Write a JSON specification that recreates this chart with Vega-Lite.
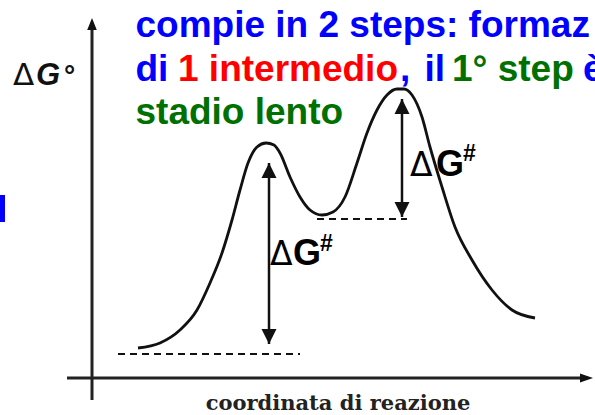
{
  "$schema": "https://vega.github.io/schema/vega-lite/v6.json",
  "width": 595,
  "height": 415,
  "autosize": {"type": "none"},
  "padding": 0,
  "background": "white",
  "config": {"view": {"stroke": null}},
  "datasets": {
    "curva": [
      {"x": 9.2, "y": 6.0}, {"x": 13.6, "y": 7.0}, {"x": 17.6, "y": 9.6}, {"x": 21.0, "y": 13.6},
      {"x": 23.6, "y": 19.0}, {"x": 26.0, "y": 25.0}, {"x": 28.0, "y": 31.6}, {"x": 29.6, "y": 37.6},
      {"x": 31.2, "y": 43.0}, {"x": 33.0, "y": 46.2}, {"x": 34.8, "y": 47.0}, {"x": 36.4, "y": 46.6},
      {"x": 37.6, "y": 45.0}, {"x": 39.6, "y": 40.2}, {"x": 41.6, "y": 36.2}, {"x": 43.6, "y": 33.6},
      {"x": 46.0, "y": 32.6}, {"x": 48.2, "y": 33.2}, {"x": 50.6, "y": 36.2}, {"x": 53.0, "y": 43.0},
      {"x": 55.0, "y": 49.0}, {"x": 57.0, "y": 53.6}, {"x": 59.0, "y": 56.6}, {"x": 61.0, "y": 57.8},
      {"x": 62.4, "y": 57.8}, {"x": 64.0, "y": 56.6}, {"x": 66.0, "y": 52.2}, {"x": 67.6, "y": 46.2},
      {"x": 70.0, "y": 38.2}, {"x": 72.6, "y": 30.2}, {"x": 76.0, "y": 23.6}, {"x": 80.0, "y": 17.6},
      {"x": 84.0, "y": 13.6}, {"x": 88.6, "y": 12.0}
    ],
    "asse_v": [{"x": 0, "y": -4.4, "y2": 70.6}],
    "asse_h": [{"x": -5, "x2": 98.6, "y": 0}],
    "punta_v": [{"x": 0, "y": 72}],
    "punta_h": [{"x": 100.2, "y": 0}],
    "tratteggio": [{"x": 5.2, "x2": 41.6, "y": 4.8}, {"x": 45, "x2": 63, "y": 31.8}],
    "frecce": [{"x": 35.4, "y": 6.8, "y2": 43.0}, {"x": 62.0, "y": 32.2, "y2": 55.8}],
    "punte_su": [{"x": 35.4, "y": 43.0}, {"x": 62.0, "y": 55.8}],
    "punte_giu": [{"x": 35.4, "y": 6.8}, {"x": 62.0, "y": 32.2}],
    "titolo": [
      {"testo": "compie in 2 steps: formaz", "x": 8.7, "y": 68.2, "colore": "blu"},
      {"testo": "di", "x": 8.7, "y": 59.4, "colore": "blu"},
      {"testo": "1 intermedio", "x": 17.2, "y": 59.4, "colore": "rosso"},
      {"testo": ",", "x": 61.6, "y": 59.4, "colore": "blu"},
      {"testo": "il", "x": 66.5, "y": 59.4, "colore": "blu"},
      {"testo": "1° step", "x": 72.0, "y": 59.4, "colore": "verde"},
      {"testo": "è", "x": 98.2, "y": 59.4, "colore": "blu"},
      {"testo": "stadio lento", "x": 8.7, "y": 50.8, "colore": "verde"}
    ],
    "blu": [{"x": -18.4, "x2": -17.4, "y": 31.2, "y2": 36.6}],
    "delta_asse": [{"testo": "Δ", "x": -15.8, "y": 58.6}],
    "g_asse": [{"testo": "G", "x": -11.2, "y": 58.6}],
    "grado": [{"testo": "°", "x": -5.6, "y": 58.6}],
    "delta_g": [{"testo": "Δ", "x": 35.6, "y": 22.6}, {"testo": "Δ", "x": 63.6, "y": 40.4}],
    "g_g": [{"testo": "G", "x": 40.2, "y": 22.6}, {"testo": "G", "x": 68.8, "y": 40.4}],
    "cancelletto": [{"testo": "#", "x": 45.6, "y": 25.4}, {"testo": "#", "x": 74.2, "y": 43.4}],
    "etichetta_x": [{"testo": "coordinata di reazione", "x": 49.2, "y": -6.4}]
  },
  "encoding": {
    "x": {"field": "x", "type": "quantitative", "scale": {"domain": [-18.4, 100.6], "nice": false, "zero": false}, "axis": null},
    "y": {"field": "y", "type": "quantitative", "scale": {"domain": [-7.4, 75.6], "nice": false, "zero": false}, "axis": null}
  },
  "layer": [
    {"data": {"name": "blu"}, "mark": {"type": "rect", "color": "#0000ff"},
     "encoding": {"x2": {"field": "x2"}, "y2": {"field": "y2"}}},
    {"data": {"name": "asse_v"}, "mark": {"type": "rule", "color": "#222222", "strokeWidth": 3},
     "encoding": {"y2": {"field": "y2"}}},
    {"data": {"name": "asse_h"}, "mark": {"type": "rule", "color": "#222222", "strokeWidth": 3},
     "encoding": {"x2": {"field": "x2"}}},
    {"data": {"name": "punta_v"}, "mark": {"type": "point", "shape": "M0,0L-0.4,1L0.4,1Z", "size": 576, "filled": true, "color": "#111111", "opacity": 1, "strokeWidth": 0}},
    {"data": {"name": "punta_h"}, "mark": {"type": "point", "shape": "M0,0L-1,-0.35L-1,0.35Z", "size": 676, "filled": true, "color": "#111111", "opacity": 1, "strokeWidth": 0}},
    {"data": {"name": "tratteggio"}, "mark": {"type": "rule", "color": "#111111", "strokeWidth": 1.8, "strokeDash": [7, 5]},
     "encoding": {"x2": {"field": "x2"}}},
    {"data": {"name": "curva"}, "mark": {"type": "line", "color": "#111111", "strokeWidth": 2.8, "interpolate": "monotone"}},
    {"data": {"name": "frecce"}, "mark": {"type": "rule", "color": "#111111", "strokeWidth": 2.5},
     "encoding": {"y2": {"field": "y2"}}},
    {"data": {"name": "punte_su"}, "mark": {"type": "point", "shape": "M0,0L-0.5,1L0.5,1Z", "size": 900, "filled": true, "color": "#111111", "opacity": 1, "strokeWidth": 0}},
    {"data": {"name": "punte_giu"}, "mark": {"type": "point", "shape": "M0,0L-0.5,-1L0.5,-1Z", "size": 900, "filled": true, "color": "#111111", "opacity": 1, "strokeWidth": 0}},
    {"data": {"name": "titolo"}, "mark": {"type": "text", "font": "Liberation Sans", "fontWeight": "bold", "fontSize": 37, "align": "left", "baseline": "alphabetic"},
     "encoding": {"text": {"field": "testo"},
       "color": {"field": "colore", "type": "nominal", "scale": {"domain": ["blu", "rosso", "verde"], "range": ["#0000ff", "#ff0000", "#007000"]}, "legend": null}}},
    {"data": {"name": "delta_asse"}, "mark": {"type": "text", "font": "DejaVu Sans", "fontSize": 31, "align": "left", "baseline": "alphabetic", "color": "#111111"},
     "encoding": {"text": {"field": "testo"}}},
    {"data": {"name": "g_asse"}, "mark": {"type": "text", "font": "Liberation Sans", "fontWeight": "bold", "fontStyle": "italic", "fontSize": 31, "align": "left", "baseline": "alphabetic", "color": "#111111"},
     "encoding": {"text": {"field": "testo"}}},
    {"data": {"name": "grado"}, "mark": {"type": "text", "font": "Liberation Sans", "fontWeight": "bold", "fontSize": 28, "align": "left", "baseline": "alphabetic", "color": "#111111"},
     "encoding": {"text": {"field": "testo"}}},
    {"data": {"name": "delta_g"}, "mark": {"type": "text", "font": "DejaVu Sans", "fontSize": 33, "align": "left", "baseline": "alphabetic", "color": "#000000"},
     "encoding": {"text": {"field": "testo"}}},
    {"data": {"name": "g_g"}, "mark": {"type": "text", "font": "Liberation Sans", "fontWeight": "bold", "fontSize": 36, "align": "left", "baseline": "alphabetic", "color": "#000000"},
     "encoding": {"text": {"field": "testo"}}},
    {"data": {"name": "cancelletto"}, "mark": {"type": "text", "font": "Liberation Sans", "fontWeight": "bold", "fontSize": 23, "align": "left", "baseline": "alphabetic", "color": "#000000"},
     "encoding": {"text": {"field": "testo"}}},
    {"data": {"name": "etichetta_x"}, "mark": {"type": "text", "font": "DejaVu Serif", "fontWeight": "bold", "fontSize": 21, "align": "center", "baseline": "alphabetic", "color": "#222222"},
     "encoding": {"text": {"field": "testo"}}}
  ]
}
